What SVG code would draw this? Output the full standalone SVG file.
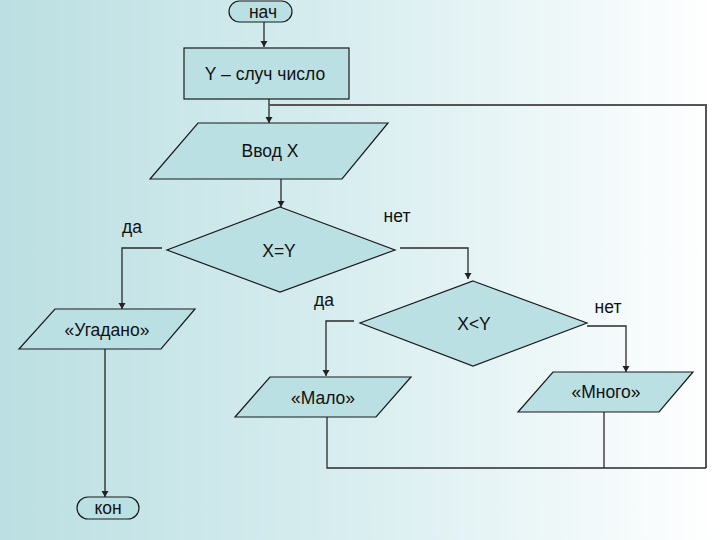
<svg xmlns="http://www.w3.org/2000/svg" width="720" height="540" viewBox="0 0 720 540">
<defs>
<linearGradient id="bg" x1="0" y1="0" x2="1" y2="0">
<stop offset="0" stop-color="#bbdfe2"/>
<stop offset="0.5" stop-color="#d9eef0"/>
<stop offset="1" stop-color="#ffffff"/>
</linearGradient>
<marker id="arr" viewBox="0 0 6 8" refX="6" refY="4" markerWidth="6" markerHeight="8" markerUnits="userSpaceOnUse" orient="auto">
<path d="M0,0.5 L6,4 L0,7.5 Z" fill="#222"/>
</marker>
<style>
.n{fill:#bbe0e3;stroke:#1a1a1a;stroke-width:1.2}
.t{font-family:"Liberation Sans",Arial,sans-serif;font-size:17.5px;fill:#111;text-anchor:middle}
.c{fill:none;stroke:#2a2a2a;stroke-width:1.3}
.ca{fill:none;stroke:#2a2a2a;stroke-width:1.3;marker-end:url(#arr)}
.g{fill:none;stroke:#555;stroke-width:2}
</style>
</defs>
<rect x="0" y="0" width="720" height="540" fill="url(#bg)"/>
<g id="connectors">
<line class="ca" x1="264" y1="22" x2="264" y2="47"/>
<line class="ca" x1="269" y1="99" x2="269" y2="123"/>
<polyline class="g" points="706,468 706,105 269,105"/>
<line class="ca" x1="281" y1="179" x2="281" y2="207"/>
<polyline class="ca" points="162,248 122,248 122,309"/>
<polyline class="ca" points="400,248 468,248 468,279"/>
<polyline class="ca" points="354,321 326,321 326,376"/>
<polyline class="ca" points="587,326 626,326 626,372"/>
<line class="ca" x1="105" y1="349" x2="105" y2="497" style="stroke:#555;stroke-width:1.8"/>
<polyline class="c" points="327,417 327,468 706,468"/>
<line class="c" x1="604" y1="412" x2="604" y2="468"/>
</g>
<g id="start">
<rect class="n" x="229" y="1" width="63" height="21" rx="10.5"/>
<text class="t" x="263" y="18">нач</text>
</g>
<g id="rand">
<rect class="n" x="184" y="48" width="165" height="51"/>
<text class="t" x="265" y="80">Y – случ число</text>
</g>
<g id="input">
<polygon class="n" points="198,123 388,123 342,179 150,179"/>
<text class="t" x="270" y="157">Ввод X</text>
</g>
<g id="eq">
<polygon class="n" points="280,207 395,250 280,292 167,250"/>
<text class="t" x="279" y="257">X=Y</text>
</g>
<g id="lt">
<polygon class="n" points="473,281 587,323 473,366 360,323"/>
<text class="t" x="474" y="330">X&lt;Y</text>
</g>
<g id="guessed">
<polygon class="n" points="55,309 195,309 161,349 19,349"/>
<text class="t" x="107" y="336">«Угадано»</text>
</g>
<g id="few">
<polygon class="n" points="270,377 411,377 376,417 235,417"/>
<text class="t" x="323" y="404">«Мало»</text>
</g>
<g id="many">
<polygon class="n" points="553,372 693,372 659,412 518,412"/>
<text class="t" x="606" y="398">«Много»</text>
</g>
<g id="end">
<rect class="n" x="77" y="497" width="62" height="22" rx="11"/>
<text class="t" x="108" y="514">кон</text>
</g>
<g id="labels">
<text class="t" x="132" y="233">да</text>
<text class="t" x="397" y="222">нет</text>
<text class="t" x="324" y="306">да</text>
<text class="t" x="608" y="313">нет</text>
</g>
</svg>
